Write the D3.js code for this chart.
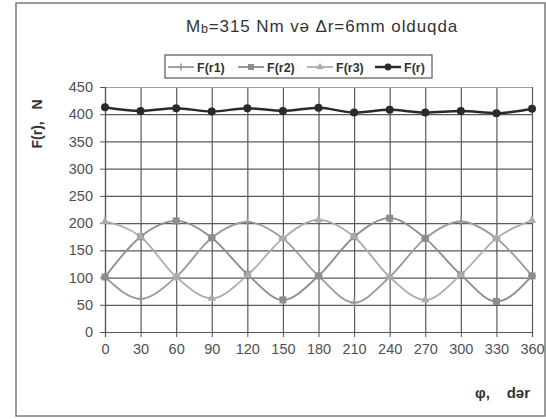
<!DOCTYPE html>
<html>
<head>
<meta charset="utf-8">
<script src="https://cdn.jsdelivr.net/npm/d3@7"></script>
<style>
  html, body { margin: 0; padding: 0; background: #ffffff; }
  svg { display: block; }
  text { font-family: Arial, "Liberation Sans", sans-serif; }
</style>
</head>
<body>
<svg id="chart" width="546" height="419"></svg>
<script>
// Angle (degrees) and force values for each roller and the resultant
const angles = [0, 30, 60, 90, 120, 150, 180, 210, 240, 270, 300, 330, 360];
const fr1 = [101, 61, 101, 173, 202, 172, 103, 54, 101, 172, 203, 172, 103];
const fr2 = [101, 175, 204, 173, 106, 59, 103, 175, 209, 172, 105, 56, 103];
const fr3 = [203, 175, 101, 62, 104, 172, 206, 175, 101, 59, 105, 172, 205];
const frTotal = [413, 406, 411, 405, 411, 406, 412, 403, 408, 403, 406, 402, 410];
const xTicks = [0, 30, 60, 90, 120, 150, 180, 210, 240, 270, 300, 330, 360];
const yTicks = [0, 50, 100, 150, 200, 250, 300, 350, 400, 450];
const seriesNames = ["F(r1)", "F(r2)", "F(r3)", "F(r)"];

const svg = d3.select("#chart");
const W = 546, H = 419;

// outer frame
svg.append("rect").attr("x", 0).attr("y", 0).attr("width", W).attr("height", H).attr("fill", "#fff");
svg.append("path")
  .attr("d", `M16,416 L16,3 L545,3 L545,416 Z`)
  .attr("fill", "none").attr("stroke", "#7a7a7a").attr("stroke-width", 1.5);

const plot = { left: 105, right: 532, top: 87, bottom: 332 };
const x = d3.scaleLinear().domain([0, 360]).range([plot.left, plot.right]);
const y = d3.scaleLinear().domain([0, 450]).range([plot.bottom, plot.top]);

// gridlines
const grid = svg.append("g");
grid.append("g")
  .attr("transform", `translate(0,${plot.bottom})`)
  .call(d3.axisBottom(x).tickValues(xTicks).tickSize(-(plot.bottom - plot.top)).tickFormat(""))
  .call(g => g.select(".domain").remove())
  .call(g => g.selectAll("line").attr("stroke", "#5a5a5a").attr("stroke-width", 1.2));
grid.append("g")
  .attr("transform", `translate(${plot.left},0)`)
  .call(d3.axisLeft(y).tickValues(yTicks).tickSize(-(plot.right - plot.left)).tickFormat(""))
  .call(g => g.select(".domain").remove())
  .call(g => g.selectAll("line").attr("stroke", d => d === 450 ? "#a0a0a0" : "#5a5a5a").attr("stroke-width", 1.2));

// axes with outward ticks
svg.append("g")
  .attr("transform", `translate(0,${plot.bottom})`)
  .call(d3.axisBottom(x).tickValues(xTicks).tickSize(5).tickPadding(7))
  .call(g => g.select(".domain").attr("stroke", "#555").attr("stroke-width", 1.2))
  .call(g => g.selectAll("line").attr("stroke", "#555"))
  .call(g => g.selectAll("text").attr("fill", "#505050").attr("font-size", 14.5));
svg.append("g")
  .attr("transform", `translate(${plot.left},0)`)
  .call(d3.axisLeft(y).tickValues(yTicks).tickSize(5).tickPadding(7))
  .call(g => g.select(".domain").attr("stroke", "#555").attr("stroke-width", 1.2))
  .call(g => g.selectAll("line").attr("stroke", "#555"))
  .call(g => g.selectAll("text").attr("fill", "#505050").attr("font-size", 14.5));

// series definitions
const series = [
  { name: seriesNames[0], values: fr1, color: "#9a9a9a", width: 1.8, marker: "plus" },
  { name: seriesNames[1], values: fr2, color: "#8c8c8c", width: 1.8, marker: "square" },
  { name: seriesNames[2], values: fr3, color: "#ababab", width: 1.8, marker: "triangle" },
  { name: seriesNames[3], values: frTotal, color: "#2a2a2a", width: 2.5, marker: "circle" }
];

const line = d3.line().x(d => x(d[0])).y(d => y(d[1])).curve(d3.curveMonotoneX);

function drawMarker(g, type, cx, cy, color, scale = 1) {
  if (type === "plus") {
    g.append("path")
      .attr("d", `M${cx - 4 * scale},${cy} L${cx + 4 * scale},${cy} M${cx},${cy - 4 * scale} L${cx},${cy + 4 * scale}`)
      .attr("stroke", color).attr("stroke-width", 1.6);
  } else if (type === "square") {
    g.append("rect").attr("x", cx - 3.5 * scale).attr("y", cy - 3.5 * scale)
      .attr("width", 7 * scale).attr("height", 7 * scale).attr("fill", color);
  } else if (type === "triangle") {
    g.append("path")
      .attr("d", d3.symbol().type(d3.symbolTriangle).size(32 * scale * scale)())
      .attr("transform", `translate(${cx},${cy})`).attr("fill", color);
  } else {
    g.append("circle").attr("cx", cx).attr("cy", cy).attr("r", 4 * scale).attr("fill", color);
  }
}

const marks = svg.append("g");
series.forEach(s => {
  const pts = angles.map((a, i) => [a, s.values[i]]);
  marks.append("path").datum(pts)
    .attr("d", line).attr("fill", "none")
    .attr("stroke", s.color).attr("stroke-width", s.width);
  const mg = marks.append("g");
  pts.forEach(p => drawMarker(mg, s.marker, x(p[0]), y(p[1]), s.color));
});

// title
const title = svg.append("text")
  .attr("x", 322).attr("y", 32).attr("text-anchor", "middle")
  .attr("font-size", 17).attr("letter-spacing", 0.9).attr("fill", "#333");
title.append("tspan").text("M");
title.append("tspan").attr("font-size", 12.5).attr("dy", 1).text("b");
title.append("tspan").attr("dy", -1).text("=315 Nm və Δr=6mm olduqda");

// legend
const legend = svg.append("g");
legend.append("rect").attr("x", 165).attr("y", 55).attr("width", 267).attr("height", 23)
  .attr("fill", "#fff").attr("stroke", "#555").attr("stroke-width", 1.2);
const legendX = [168, 238, 307, 375];
series.forEach((s, i) => {
  const lx = legendX[i], ly = 67;
  legend.append("line").attr("x1", lx).attr("x2", lx + 26).attr("y1", ly).attr("y2", ly)
    .attr("stroke", s.color).attr("stroke-width", s.width);
  drawMarker(legend, s.marker, lx + 13, ly, s.color, 0.85);
  legend.append("text").attr("x", lx + 29).attr("y", ly + 5)
    .attr("font-size", 12.5).attr("font-weight", "bold").attr("fill", "#333").text(s.name);
});

// axis titles
svg.append("text")
  .attr("transform", "translate(42,124) rotate(-90)")
  .attr("text-anchor", "middle").attr("font-size", 14).attr("font-weight", "bold")
  .attr("fill", "#333").attr("xml:space", "preserve").text("F(r),   N");
svg.append("text")
  .attr("x", 530).attr("y", 398).attr("text-anchor", "end")
  .attr("font-size", 15).attr("font-weight", "bold").attr("fill", "#333")
  .attr("xml:space", "preserve").text("φ,    dər");
</script>
</body>
</html>
